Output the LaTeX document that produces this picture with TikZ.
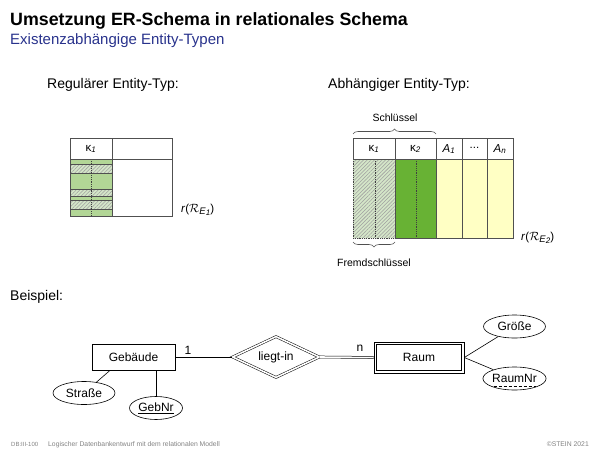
\documentclass[tikz,border=0pt]{standalone}
\usepackage{fontspec}
\setmainfont{Liberation Sans}
\usetikzlibrary{patterns,patterns.meta,shapes.geometric,decorations.pathreplacing,calc}
\definecolor{titleblue}{RGB}{40,50,140}
\definecolor{lgreen}{RGB}{178,214,150}
\definecolor{hgreen}{RGB}{212,230,200}
\definecolor{dgreen}{RGB}{104,178,52}
\definecolor{lyellow}{RGB}{255,255,196}
\definecolor{tline}{RGB}{80,80,80}
\definecolor{footgray}{RGB}{130,130,130}
\newcommand{\relsub}[1]{\textit{r}(\(\mathcal{R}\)\raisebox{-2pt}{\fontsize{9.5}{10}\selectfont\textit{E}\raisebox{-1pt}{\fontsize{8}{8}\selectfont\textit{#1}}})}
\begin{document}
\begin{tikzpicture}[x=1pt,y=-1pt,
  txt/.style={inner sep=0pt,anchor=base west},
  tl/.style={draw=tline,line width=0.7pt},
  hatch/.style={pattern={Lines[angle=45,distance=2.6pt,line width=0.55pt]},pattern color=gray!75},
  dotv/.style={draw=black!75,densely dotted,line width=0.8pt},
  erfont/.style={font=\fontsize{12}{14}\selectfont},
  ent/.style={draw,line width=0.6pt,minimum width=83pt,minimum height=26pt,inner sep=0pt,erfont},
  wkent/.style={draw,line width=0.6pt,minimum width=90pt,minimum height=31pt,inner sep=0pt,erfont},
  rel/.style={diamond,draw,double,double distance=1.6pt,line width=0.5pt,aspect=2.1,minimum width=87pt,minimum height=41pt,inner sep=0pt,erfont},
  attr/.style={ellipse,draw,line width=0.6pt,minimum width=62pt,minimum height=23pt,inner sep=0pt,erfont},
  card/.style={inner sep=0pt,erfont},
  small/.style={inner sep=0pt,font=\fontsize{10.5}{12}\selectfont},
  hdr/.style={inner sep=0pt,font=\fontsize{11.5}{12}\selectfont},
  foot/.style={inner sep=0pt,font=\fontsize{6.8}{8}\selectfont,text=footgray}
]
\useasboundingbox (0,0) rectangle (600,450);

% titles
\node[txt,font=\fontsize{17.8}{20}\selectfont\bfseries] (title) at (10,25) {Umsetzung ER-Schema in relationales Schema};
\node[txt,font=\fontsize{15}{17}\selectfont,text=titleblue] (subtitle) at (10,44.5) {Existenzabhängige Entity-Typen};
\node[txt,font=\fontsize{14}{16}\selectfont] (reg) at (47,88.5) {Regulärer Entity-Typ:};
\node[txt,font=\fontsize{14}{16}\selectfont] (abh) at (328,88.5) {Abhängiger Entity-Typ:};
\node[txt,font=\fontsize{14}{16}\selectfont] (bsp) at (10,300.5) {Beispiel:};

% ---------- left table ----------
\fill[lgreen] (70,159) rectangle (112,216);
\foreach \a/\b in {164/173,189/196,200/209}{
  \fill[hgreen] (70,\a) rectangle (112,\b);
  \fill[hatch] (70,\a) rectangle (112,\b);
  \draw[tline,line width=0.4pt] (70,\a) -- (112,\a) (70,\b) -- (112,\b);
}
\draw[dotv] (91,159) -- (91,216);
\draw[tl] (70,138) rectangle (172,216);
\draw[tl] (70,159) -- (172,159);
\draw[tl] (112,138) -- (112,216);
\node[hdr] (lk1) at (91,149) {κ\textsubscript{\textit{1}}};
\node[txt,font=\fontsize{11.5}{12}\selectfont] (lr) at (181,212) {\relsub{1}};

% ---------- right table ----------
\fill[hgreen] (353,159) rectangle (395,238);
\fill[hatch] (353,159) rectangle (395,238);
\fill[dgreen] (395,159) rectangle (436,238);
\fill[lyellow] (436,159) rectangle (513,238);
\draw[dotv] (375,159) -- (375,238);
\draw[dotv] (416,159) -- (416,238);
\draw[dotv] (353,159) -- (353,238) -- (395,238);
\draw[tl] (353,138) rectangle (513,159);
\draw[tl] (395,238) -- (513,238) -- (513,159);
\draw[tl] (395,138) -- (395,238);
\draw[tl] (436,138) -- (436,238);
\draw[tl] (462,138) -- (462,238);
\draw[tl] (487,138) -- (487,238);
\node[hdr] (rk1) at (374,149) {κ\textsubscript{\textit{1}}};
\node[hdr] (rk2) at (415.5,149) {κ\textsubscript{\textit{2}}};
\node[hdr] (ra1) at (449,149) {\textit{A}\textsubscript{\textit{1}}};
\node[hdr] (rdots) at (474.5,148) {...};
\node[hdr] (ran) at (500,149) {\textit{A}\textsubscript{\textit{n}}};
\node[txt,font=\fontsize{11.5}{12}\selectfont] (rr) at (521,240) {\relsub{2}};

\draw[tline,line width=0.6pt,decorate,decoration={brace,amplitude=5pt}] (353,134) -- (436,134);
\node[small] (schl) at (395,118) {Schlüssel};
\draw[tline,line width=0.6pt,decorate,decoration={brace,amplitude=5pt,mirror}] (353,242) -- (395,242);
\node[small] (fremd) at (374,263) {Fremdschlüssel};

% ---------- ER example ----------
\node[ent] (geb) at (133.5,357) {Gebäude};
\node[rel] (liegt) at (276,357) {liegt-in};
\node[wkent] (raum) at (419,357.5) {Raum};
\draw[line width=0.6pt] ($(raum.north west)+(2.6,2.6)$) rectangle ($(raum.south east)+(-2.6,-2.6)$);
\node[attr] (groesse) at (514.5,326.5) {Größe};
\node[attr] (raumnr) at (514.5,378.5) {RaumNr};
\node[attr] (strasse) at (84,393) {Straße};
\node[attr,minimum width=53pt] (gebnr) at (156,408) {\underline{GebNr}};

\draw[line width=0.6pt] (geb.east) -- (liegt.west);
\draw[double,double distance=1.6pt,line width=0.5pt] (liegt.east) -- (raum.west);
\draw[line width=0.6pt] (raum.east) -- (groesse);
\draw[line width=0.6pt] (raum.east) -- (raumnr);
\draw[line width=0.6pt] ($(geb.south west)!0.22!(geb.south east)$) -- (strasse);
\draw[line width=0.6pt] (gebnr.north) -- (gebnr.north |- geb.south);
\draw[densely dashed,line width=0.5pt] ($(raumnr.center)+(-21,7.5)$) -- ($(raumnr.center)+(21,7.5)$);
\node[card] (c1) at (188,350) {1};
\node[card] (cn) at (360,348) {n};

% footer
\node[txt,foot,font=\fontsize{6}{7}\selectfont] (f1) at (11,446) {DB:III-100};
\node[txt,foot] (f1b) at (48,446) {Logischer Datenbankentwurf mit dem relationalen Modell};
\node[foot,anchor=base east] (f2) at (589,446) {©STEIN 2021};
\end{tikzpicture}
\end{document}
